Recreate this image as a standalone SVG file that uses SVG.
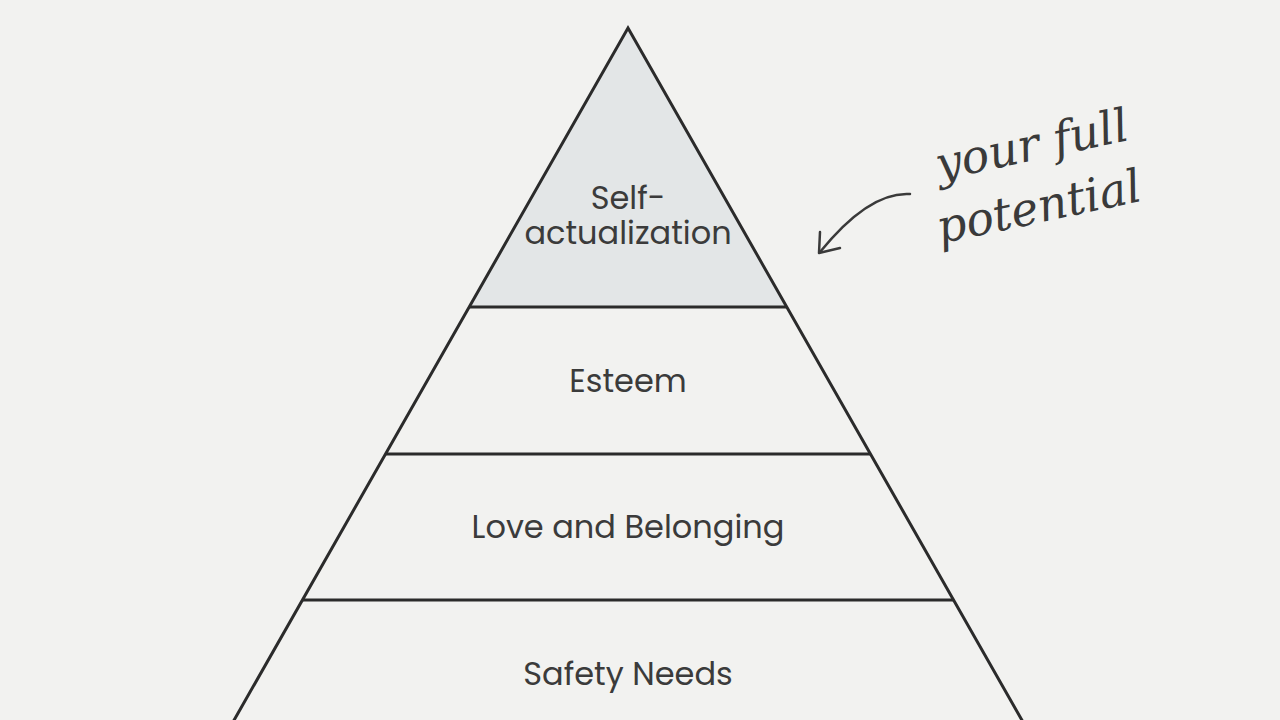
<svg xmlns="http://www.w3.org/2000/svg" width="1280" height="720" viewBox="0 0 1280 720">
<defs>
<style>
.edge{fill:none;stroke:#2b2b2b;stroke-width:3;stroke-linejoin:miter}
.lbl{font-family:Poppins,Inter,"Noto Sans",sans-serif;font-size:32px;fill:#3b3b3b;text-anchor:middle}
.hand{font-family:"DejaVu Serif","Liberation Serif",serif;font-style:italic;font-size:46px;fill:#3a3a3a}
</style>
</defs>
<rect width="1280" height="720" fill="#f2f2f0"/>
<g id="tier-self-actualization">
<polygon points="628,28 786.5,307 469.5,307" fill="#e3e6e7" stroke="none"/>
<text class="lbl" x="628" y="209">Self-</text>
<text class="lbl" x="628" y="244">actualization</text>
</g>
<g id="tier-esteem">
<text class="lbl" x="628" y="392">Esteem</text>
</g>
<g id="tier-love">
<text class="lbl" x="628" y="538">Love and Belonging</text>
</g>
<g id="tier-safety">
<text class="lbl" x="628" y="685">Safety Needs</text>
</g>
<g id="connectors">
<polyline class="edge" points="233,722 628,28 1023,722"/>
<line class="edge" x1="469.5" y1="307" x2="786.5" y2="307"/>
<line class="edge" x1="386" y1="454" x2="870" y2="454"/>
<line class="edge" x1="302" y1="600" x2="954" y2="600"/>
<path d="M910,194 C880,192 850,215 820,252" fill="none" stroke="#3a3a3a" stroke-width="2.5" stroke-linecap="round"/>
<path d="M820,232 L819,253 L840,248" fill="none" stroke="#3a3a3a" stroke-width="2.5" stroke-linecap="round" stroke-linejoin="round"/>
</g>
<g id="annotation">
<text class="hand" x="1035" y="160" text-anchor="middle" transform="rotate(-12 1035 160)">your full</text>
<text class="hand" x="1042" y="222" text-anchor="middle" transform="rotate(-12 1042 222)">potential</text>
</g>
</svg>
